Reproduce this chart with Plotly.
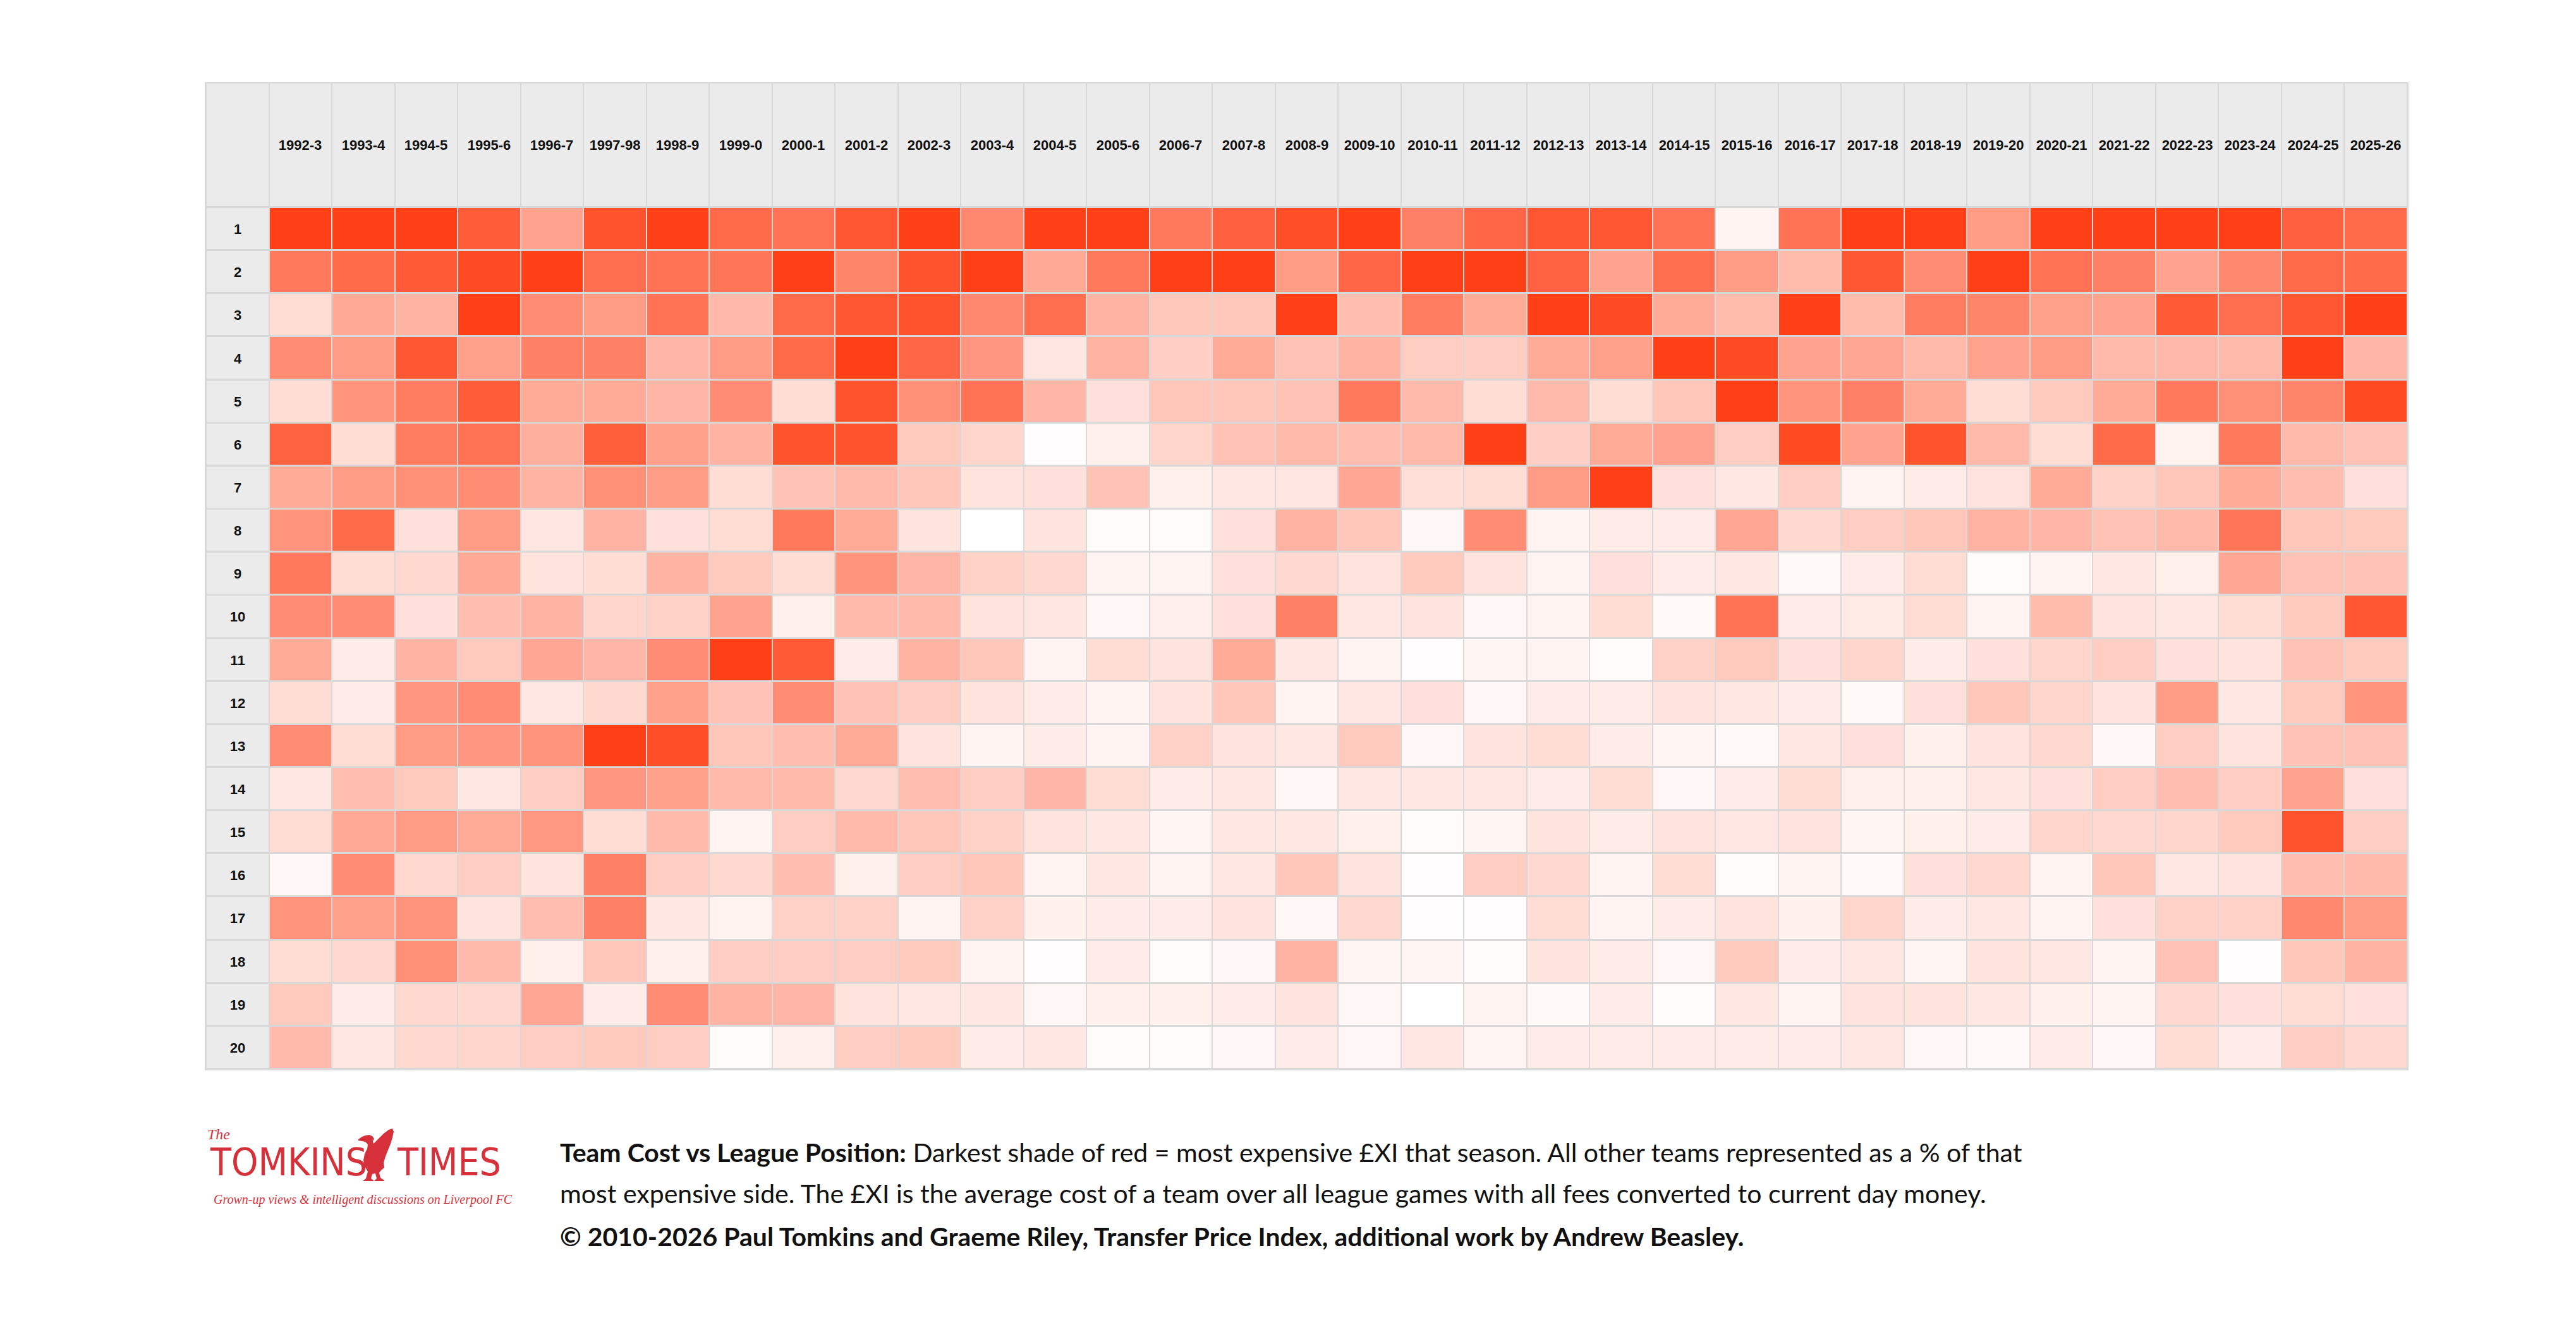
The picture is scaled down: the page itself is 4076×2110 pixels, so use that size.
import plotly.graph_objects as go

# page is 4076x2110; the html body has an 8px margin, so the figure is 16px smaller
PAGE_W, PAGE_H = 4076, 2110
M = 8
W, H = PAGE_W - 2 * M, PAGE_H - 2 * M


def px(x):
    return (x - M) / W


def py(y):
    return 1 - (y - M) / H


seasons = ["1992-3", "1993-4", "1994-5", "1995-6", "1996-7", "1997-98", "1998-9", "1999-0",
           "2000-1", "2001-2", "2002-3", "2003-4", "2004-5", "2005-6", "2006-7", "2007-8",
           "2008-9", "2009-10", "2010-11", "2011-12", "2012-13", "2013-14", "2014-15",
           "2015-16", "2016-17", "2017-18", "2018-19", "2019-20", "2020-21", "2021-22",
           "2022-23", "2023-24", "2024-25", "2025-26"]
positions = [str(i) for i in range(1, 21)]

# Team cost as % of that season's most expensive XI (100 = most expensive), per league position
pos_01 = [100, 100, 100, 85, 48, 90, 100, 78, 74, 88, 100, 62, 100, 100, 70, 83, 92,
          100, 66, 80, 88, 88, 74, 6, 74, 100, 100, 52, 100, 100, 100, 100, 83, 78]
pos_02 = [70, 78, 86, 94, 100, 76, 74, 72, 100, 64, 90, 100, 45, 70, 100, 100, 52,
          80, 100, 100, 82, 48, 76, 52, 35, 88, 60, 100, 74, 66, 48, 62, 78, 78]
pos_03 = [18, 45, 40, 100, 60, 52, 74, 37, 78, 88, 90, 62, 76, 40, 29, 29, 100,
          34, 68, 44, 100, 94, 44, 35, 100, 35, 68, 64, 50, 48, 86, 76, 88, 100]
pos_04 = [60, 52, 88, 50, 66, 66, 38, 52, 78, 100, 80, 55, 13, 40, 25, 44, 32,
          40, 26, 26, 44, 50, 100, 94, 48, 46, 36, 48, 52, 36, 37, 36, 100, 38]
pos_05 = [18, 56, 68, 85, 44, 44, 38, 60, 18, 90, 58, 74, 38, 16, 30, 30, 32,
          70, 36, 18, 36, 18, 30, 100, 56, 66, 44, 18, 28, 44, 70, 58, 64, 95]
pos_06 = [82, 18, 68, 74, 42, 84, 50, 40, 90, 90, 28, 22, 1, 8, 22, 32, 36,
          34, 36, 100, 25, 44, 48, 26, 95, 48, 90, 36, 18, 78, 7, 70, 36, 32]
pos_07 = [44, 52, 58, 60, 40, 58, 52, 18, 32, 36, 30, 14, 16, 32, 8, 12, 13,
          46, 17, 18, 52, 100, 16, 12, 26, 6, 10, 15, 44, 24, 30, 44, 34, 16]
pos_08 = [56, 78, 16, 52, 13, 40, 16, 18, 70, 44, 14, 0, 14, 2, 2, 16, 40,
          30, 4, 60, 6, 10, 10, 46, 20, 26, 30, 40, 38, 32, 36, 72, 30, 28]
pos_09 = [70, 18, 20, 45, 14, 18, 40, 28, 18, 56, 38, 24, 20, 6, 6, 16, 20,
          14, 28, 14, 6, 16, 10, 12, 3, 10, 18, 2, 6, 12, 8, 46, 32, 32]
pos_10 = [60, 60, 16, 34, 40, 22, 24, 48, 8, 36, 36, 14, 13, 4, 9, 16, 66,
          12, 14, 4, 6, 18, 3, 74, 10, 11, 18, 6, 35, 14, 12, 18, 28, 88]
pos_11 = [44, 10, 40, 28, 46, 38, 60, 100, 86, 10, 40, 30, 6, 18, 14, 44, 12,
          6, 1, 5, 6, 2, 24, 28, 16, 22, 10, 16, 22, 26, 16, 14, 32, 28]
pos_12 = [18, 10, 55, 60, 12, 20, 50, 32, 60, 32, 26, 14, 10, 6, 14, 30, 6,
          12, 16, 4, 10, 10, 14, 12, 10, 3, 16, 30, 22, 14, 52, 12, 28, 56]
pos_13 = [60, 18, 52, 55, 56, 100, 92, 30, 34, 44, 14, 6, 10, 6, 24, 14, 12,
          28, 4, 14, 18, 10, 5, 3, 12, 16, 8, 14, 20, 4, 26, 14, 32, 32]
pos_14 = [12, 34, 28, 12, 26, 55, 50, 36, 36, 20, 34, 26, 38, 18, 10, 12, 4,
          12, 12, 12, 10, 18, 4, 10, 18, 8, 8, 12, 16, 26, 34, 26, 48, 16]
pos_15 = [18, 45, 52, 44, 54, 18, 36, 6, 26, 36, 30, 24, 14, 12, 5, 12, 12,
          8, 2, 5, 14, 10, 14, 12, 14, 5, 8, 10, 22, 20, 22, 28, 90, 26]
pos_16 = [4, 60, 20, 26, 14, 66, 26, 20, 34, 8, 26, 30, 6, 12, 6, 12, 30,
          14, 1, 26, 20, 6, 18, 2, 6, 3, 16, 20, 6, 30, 12, 14, 34, 36]
pos_17 = [56, 50, 56, 14, 34, 66, 12, 7, 24, 24, 6, 24, 8, 10, 10, 14, 4,
          20, 1, 1, 18, 6, 10, 14, 8, 22, 10, 12, 6, 16, 24, 24, 62, 52]
pos_18 = [18, 20, 58, 36, 8, 30, 8, 26, 26, 26, 28, 6, 1, 10, 2, 4, 40,
          5, 5, 2, 14, 10, 4, 28, 10, 12, 5, 14, 12, 6, 32, 1, 30, 40]
pos_19 = [28, 10, 20, 20, 46, 10, 60, 40, 38, 14, 12, 12, 4, 8, 8, 10, 14,
          4, 0, 6, 3, 10, 2, 12, 6, 14, 14, 12, 8, 6, 20, 16, 18, 16]
pos_20 = [36, 12, 20, 22, 26, 28, 26, 2, 8, 26, 28, 10, 12, 2, 2, 4, 10,
          4, 12, 5, 10, 10, 10, 10, 10, 12, 4, 3, 10, 4, 18, 10, 26, 20]

values = [pos_01, pos_02, pos_03, pos_04, pos_05, pos_06, pos_07, pos_08, pos_09, pos_10,
          pos_11, pos_12, pos_13, pos_14, pos_15, pos_16, pos_17, pos_18, pos_19, pos_20]

RED = "#FF4016"
HEAD_BG = "#EBEBEB"
LINE = "#D8D8D8"
LOGO_RED = "#D6313A"
label_col = " "
xcats = [label_col] + seasons
head_font = dict(family="Liberation Sans, Arial", size=22, color="#111111")

fig = go.Figure()

# main cells
fig.add_trace(go.Heatmap(
    x=seasons, y=positions, z=values, zmin=0, zmax=100,
    colorscale=[[0, "#FFFFFF"], [1, RED]], showscale=False,
    xgap=2, ygap=3, hoverinfo="skip", xaxis="x", yaxis="y"))

# row-label column
fig.add_trace(go.Heatmap(
    x=[label_col], y=positions, z=[[0] for _ in positions],
    text=[[p] for p in positions], texttemplate="<b>%{text}</b>", textfont=head_font,
    colorscale=[[0, HEAD_BG], [1, HEAD_BG]], showscale=False,
    xgap=2, ygap=3, hoverinfo="skip", xaxis="x", yaxis="y"))

# header row with season labels
fig.add_trace(go.Heatmap(
    x=xcats, y=["season"], z=[[0] * len(xcats)],
    text=[[""] + seasons], texttemplate="<b>%{text}</b>", textfont=head_font,
    colorscale=[[0, HEAD_BG], [1, HEAD_BG]], showscale=False,
    xgap=2, ygap=0, hoverinfo="skip", xaxis="x", yaxis="y2"))

axis_common = dict(showticklabels=False, showgrid=False, zeroline=False,
                   showline=False, ticks="", fixedrange=True)

# liver-bird emblem (simple silhouette), local pixel outline inside box 565..623 x 1785..1868
bird_pts = [(2, 17), (8, 13), (13, 11), (19, 10), (24, 12), (27, 16), (25, 20), (26, 24),
            (34, 16), (42, 8), (50, 2), (56, 0), (58, 5), (56, 14), (53, 24), (49, 34),
            (45, 44), (42, 54), (43, 62), (38, 66), (35, 70), (37, 78), (43, 82), (43, 83),
            (27, 83), (31, 79), (29, 71), (24, 72), (22, 79), (26, 82), (26, 83), (9, 83),
            (14, 79), (17, 68), (12, 60), (10, 50), (12, 40), (16, 32), (17, 25), (13, 21),
            (8, 20), (2, 19)]
bx0, by0 = 565, 1785
bird_path = "M " + " L ".join(f"{px(bx0 + a):.5f},{py(by0 + b):.5f}" for a, b in bird_pts) + " Z"

fig.update_layout(
    width=W, height=H,
    paper_bgcolor="white", plot_bgcolor=LINE,
    margin=dict(l=0, r=0, t=0, b=0),
    showlegend=False,
    xaxis=dict(domain=[px(326), px(3809)], type="category",
               categoryorder="array", categoryarray=xcats, **axis_common),
    yaxis=dict(domain=[py(1691), py(328)], type="category",
               categoryorder="array", categoryarray=positions,
               autorange="reversed", **axis_common),
    yaxis2=dict(domain=[py(326), py(132)], anchor="x", type="category", **axis_common),
    shapes=[
        dict(type="rect", xref="paper", yref="paper",
             x0=px(324), x1=px(3811), y0=py(1693), y1=py(130),
             fillcolor=LINE, line=dict(width=0), layer="below"),
        dict(type="path", xref="paper", yref="paper", path=bird_path,
             fillcolor=LOGO_RED, line=dict(width=0)),
    ],
)

caption_font = dict(family="Lato, Open Sans, sans-serif", size=41, color="#111111")
captions = [
    (1822, "<b>Team Cost vs League Position:</b> Darkest shade of red = most expensive £XI that season. "
           "All other teams represented as a % of that"),
    (1887, "most expensive side. The £XI is the average cost of a team over all league games with all "
           "fees converted to current day money."),
    (1955, "<b>© 2010-2026 Paul Tomkins and Graeme Riley, Transfer Price Index, additional work by Andrew Beasley.</b>"),
]
for ypx, txt in captions:
    fig.add_annotation(x=px(884), y=py(ypx), xref="paper", yref="paper",
                       xanchor="left", yanchor="middle", showarrow=False,
                       text=txt, font=caption_font)

# logo text
serif = "Liberation Serif, DejaVu Serif, serif"
narrow = "Liberation Sans Narrow, DejaVu Sans Condensed, Roboto Condensed, Liberation Sans"
fig.add_annotation(x=px(326), y=py(1794), xref="paper", yref="paper", xanchor="left",
                   yanchor="middle", showarrow=False, text="<i>The</i>",
                   font=dict(family=serif, size=24, color=LOGO_RED))
fig.add_annotation(x=px(330), y=py(1838), xref="paper", yref="paper", xanchor="left",
                   yanchor="middle", showarrow=False, text="TOMKINS",
                   font=dict(family=narrow, size=60, color=LOGO_RED))
fig.add_annotation(x=px(626), y=py(1838), xref="paper", yref="paper", xanchor="left",
                   yanchor="middle", showarrow=False, text="TIMES",
                   font=dict(family=narrow, size=60, color=LOGO_RED))
fig.add_annotation(x=px(336), y=py(1897), xref="paper", yref="paper", xanchor="left",
                   yanchor="middle", showarrow=False,
                   text="<i>Grown-up views &amp; intelligent discussions on Liverpool FC</i>",
                   font=dict(family=serif, size=20, color=LOGO_RED))

fig.write_html("out.html")
